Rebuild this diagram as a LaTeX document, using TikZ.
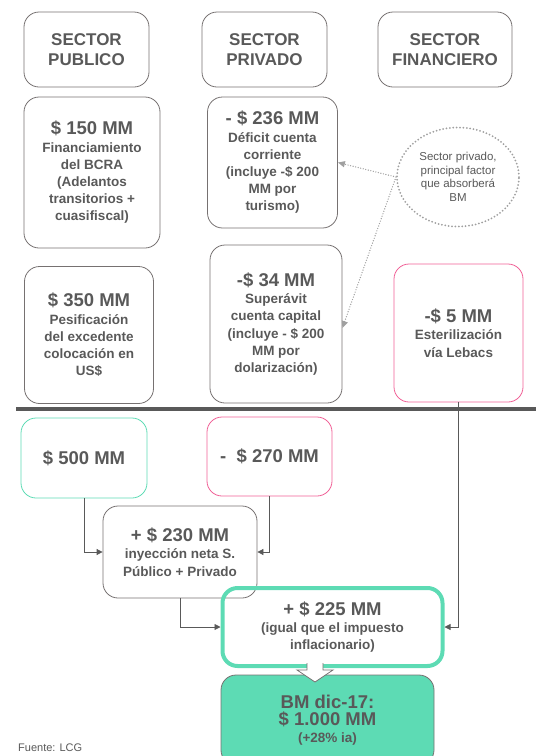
\documentclass[tikz,border=0pt]{standalone}
\usepackage{fontspec}
\setmainfont{Liberation Sans}
\usetikzlibrary{arrows.meta,shapes.geometric}
\definecolor{txtgray}{RGB}{89,89,89}
\definecolor{boxgray}{RGB}{118,113,113}
\definecolor{lcggreen}{RGB}{93,219,180}
\definecolor{lcgpink}{RGB}{240,96,150}
\definecolor{dotgray}{RGB}{160,160,160}
\newcommand{\monto}[1]{{\fontsize{18.5}{21}\selectfont #1}}

\begin{document}
\begin{tikzpicture}[x=1pt,y=-1pt,
  box/.style={draw=boxgray,line width=0.8pt,rounded corners=15pt,align=center,text=txtgray,
    font=\fontsize{13.5}{17.2}\selectfont\bfseries,inner sep=0pt},
  head/.style={box,font=\fontsize{17}{20}\selectfont\bfseries},
  conn/.style={draw=txtgray,line width=0.8pt,-{Triangle[length=6pt,width=6pt]}},
  dotarrow/.style={draw=dotgray,line width=1.4pt,line cap=round,dash pattern=on 0pt off 2.6pt,
    -{Triangle[length=7pt,width=6pt,line cap=butt]}}]
\useasboundingbox (0,0) rectangle (536,756);
% cabecera
\node[head,minimum width=125,minimum height=75] (pub) at (86.5,49.5) {SECTOR\\PUBLICO};
\node[head,minimum width=125,minimum height=75] (priv) at (264.5,49.5) {SECTOR\\PRIVADO};
\node[head,minimum width=134,minimum height=75] (fin) at (445,49.5) {SECTOR\\FINANCIERO};
% flujos por sector
\node[box,minimum width=136,minimum height=151] (bcra) at (92,172.5)
  {\monto{\$ 150 MM}\\Financiamiento\\del BCRA\\(Adelantos\\transitorios +\\cuasifiscal)};
\node[box,minimum width=130,minimum height=131] (cc) at (272.5,162.5)
  {\monto{- \$ 236 MM}\\Déficit cuenta\\corriente\\(incluye -\$ 200\\MM por\\turismo)};
\node[box,minimum width=129,minimum height=137] (pesif) at (89,335)
  {\monto{\$ 350 MM}\\Pesificación\\del excedente\\colocación en\\US\$};
\node[box,minimum width=132,minimum height=158] (kc) at (276,324)
  {\monto{-\$ 34 MM}\\Superávit\\cuenta capital\\(incluye - \$ 200\\MM por\\dolarización)};
\node[box,draw=lcgpink,minimum width=129,minimum height=138] (leb) at (458.5,333)
  {\monto{-\$ 5 MM}\\Esterilización\\vía Lebacs};
\node[ellipse,draw=dotgray,line width=2pt,line cap=round,dash pattern=on 0pt off 3.4pt,
  minimum width=122,minimum height=99,align=center,text=txtgray,
  font=\fontsize{11.5}{13.5}\selectfont,inner sep=0pt] (nota) at (458,177)
  {Sector privado,\\principal factor\\que absorberá\\BM};
\draw[dotarrow] (nota.west) -- (cc.east);
\draw[dotarrow] (nota.west) -- ([yshift=-4]kc.east);
\draw[txtgray,line width=4pt] (16,409) -- (536,409);
% resultado
\node[box,draw=lcggreen,minimum width=126,minimum height=80] (pub500) at (84,458) {\monto{\$ 500 MM}};
\node[box,draw=lcgpink,minimum width=125,minimum height=79] (priv270) at (269.5,456.5) {\monto{-\ \ \$ 270 MM}};
\node[box,minimum width=154,minimum height=92] (neta) at (180,552)
  {\monto{+ \$ 230 MM}\\inyección neta S.\\Público + Privado};
\node[box,draw=lcggreen,line width=4pt,minimum width=220,minimum height=78] (bm225) at (332.5,627)
  {\monto{+ \$ 225 MM}\\(igual que el impuesto\\inflacionario)};
\node[box,fill=lcggreen,minimum width=213,minimum height=90] (bm) at (327.5,720)
  {\monto{BM dic-17:}\\\monto{\$ 1.000 MM}\\(+28\% ia)};
\draw[conn] (pub500.south) |- (neta.west);
\draw[conn] (priv270.south) |- (neta.east);
\draw[conn] (neta.south) |- (bm225.west);
\draw[conn] (leb.south) |- (bm225.east);
\draw[boxgray,line width=0.8pt,fill=white] (307,663) -- (307,670) -- (297,670) -- (315,682)
  -- (333,670) -- (323,670) -- (323,663);
\node[anchor=west,text=txtgray,font=\fontsize{11}{13}\selectfont,inner sep=0pt] (fuente) at (18,748) {Fuente: LCG};
\end{tikzpicture}
\end{document}
